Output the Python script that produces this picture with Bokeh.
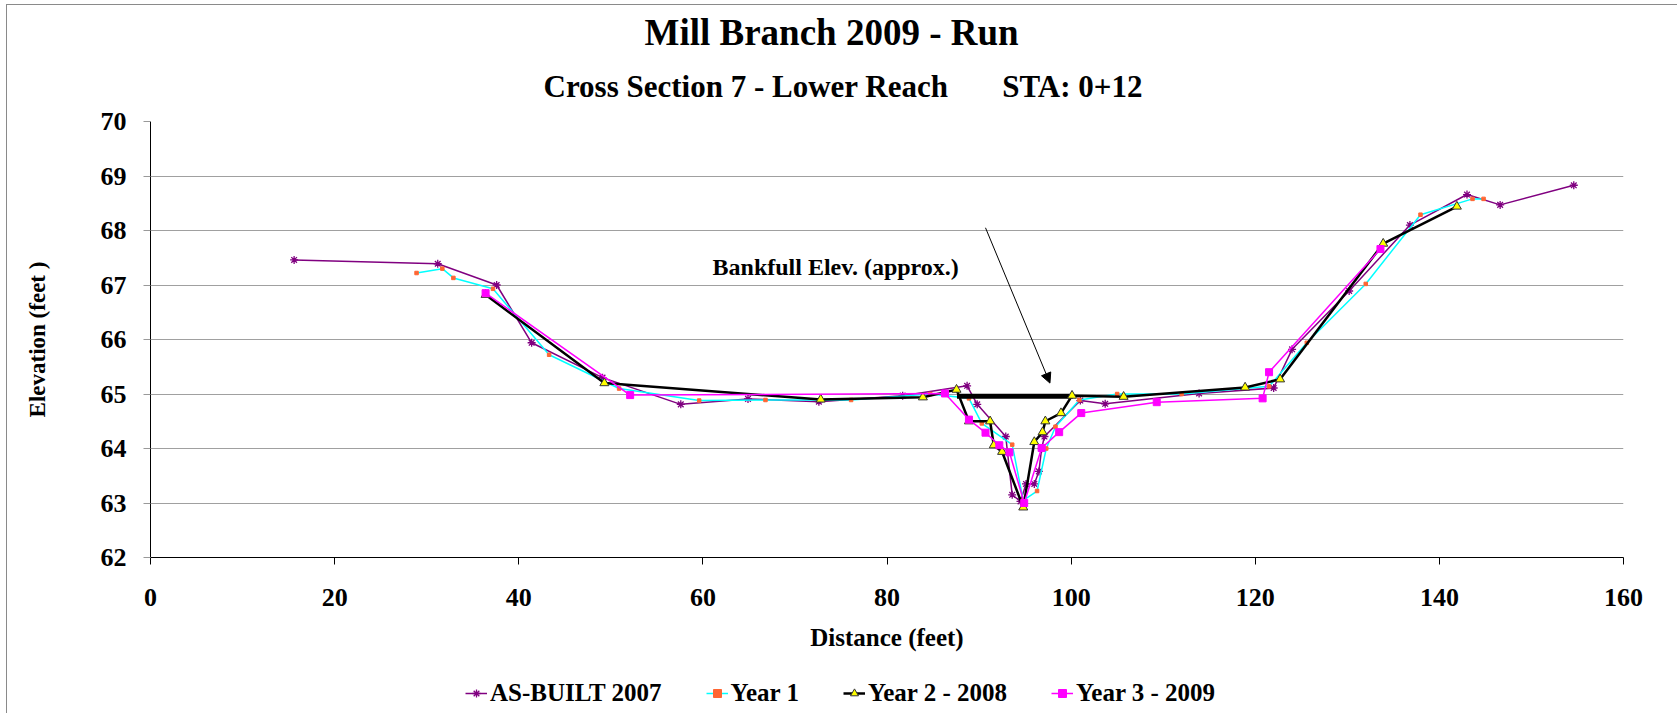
from bokeh.plotting import figure
from bokeh.layouts import column
from bokeh.models import (Range1d, FixedTicker, Title, Label, Arrow, NormalHead,
                          Legend, LegendItem)
from bokeh.embed import file_html
from bokeh.resources import INLINE

FONT = "Liberation Serif"

# Survey data: distance (ft) and elevation (ft)
asbuilt_x = [15.6, 31.2, 37.6, 41.4, 49.1, 57.6, 64.9, 72.6, 81.7, 88.7, 89.8, 92.9,
             93.6, 94.5, 95.1, 96.0, 96.5, 96.8, 97.1, 101.0, 103.7, 113.9, 122.0,
             124.0, 130.2, 136.8, 143.0, 146.6, 154.6]
asbuilt_y = [67.46, 67.39, 67.00, 65.94, 65.30, 64.81, 64.91, 64.86, 64.97, 65.15, 64.81, 64.22,
             63.15, 63.03, 63.35, 63.35, 63.58, 64.00, 64.22, 64.88, 64.82, 65.01, 65.11,
             65.82, 66.89, 68.10, 68.66, 68.47, 68.83]

year1_x = [28.9, 31.7, 32.9, 37.2, 43.3, 50.9, 59.6, 66.8, 76.1, 84.7, 88.9, 90.3,
           93.6, 94.8, 96.3, 97.3, 98.3, 100.9, 105.0, 112.0, 121.5, 125.6, 132.0,
           137.95, 143.6, 144.8]
year1_y = [67.22, 67.30, 67.13, 66.93, 65.72, 65.10, 64.88, 64.89, 64.89, 65.00, 64.92, 64.46,
           64.07, 63.05, 63.22, 64.00, 64.40, 64.89, 65.00, 65.00, 65.14, 65.94, 67.02,
           68.29, 68.58, 68.58]

year2_x = [36.4, 49.3, 72.8, 83.9, 87.55, 88.9, 91.2, 91.6, 92.5, 94.8, 96.0, 96.9,
           97.2, 98.9, 100.1, 105.7, 118.9, 122.7, 133.9, 141.9]
year2_y = [66.82, 65.20, 64.90, 64.94, 65.08, 64.50, 64.50, 64.06, 63.94, 62.92, 64.12, 64.30,
           64.50, 64.65, 64.97, 64.95, 65.12, 65.27, 67.76, 68.44]

year3_x = [36.4, 52.1, 86.3, 88.9, 90.7, 92.2, 93.3, 94.9, 96.8, 98.7, 101.1, 109.3,
           120.8, 121.5, 133.6]
year3_y = [66.85, 64.98, 65.01, 64.53, 64.29, 64.06, 63.93, 63.00, 64.01, 64.30, 64.65, 64.85,
           64.92, 65.40, 67.66]

# Approximate bankfull elevation line and its callout
bankfull_x = [87.6, 100.2]
bankfull_y = [64.96, 64.96]
bankfull_label_pos = (61.05, 67.33)
arrow_start = (90.7, 68.05)
arrow_end = (97.7, 65.2)

x_ticks = [0, 20, 40, 60, 80, 100, 120, 140, 160]
y_ticks = [62, 63, 64, 65, 66, 67, 68, 69, 70]

series_names = ["AS-BUILT 2007", "Year 1", "Year 2 - 2008", "Year 3 - 2009"]

# Visual style of each series: line, then marker
STYLES = [
    (dict(line_color="#800080", line_width=1.5),
     dict(marker="asterisk", size=8, line_color="#800080", line_width=1.3)),
    (dict(line_color="#00FFFF", line_width=1.5),
     dict(marker="square", size=3.5, fill_color="#FF6633", line_color="#FF6633")),
    (dict(line_color="black", line_width=2.5),
     dict(marker="triangle", size=9, fill_color="#FFFF00", line_color="#333333", line_width=1)),
    (dict(line_color="#FF00FF", line_width=1.5),
     dict(marker="square", size=7, fill_color="#FF00FF", line_color="#FF00FF")),
]

p = figure(width=1670, height=666, output_backend="svg", toolbar_location=None,
           x_range=Range1d(0, 160), y_range=Range1d(62, 70),
           min_border_left=143, min_border_right=54, min_border_top=116,
           min_border_bottom=114, title=None)
p.outline_line_color = None
p.background_fill_color = "white"
p.border_fill_color = "white"

# Titles (the first one added sits nearest to the plot area)
p.add_layout(Title(text="Cross Section 7 - Lower Reach" + "\u00a0" * 7 + "STA: 0+12",
                   align="left", offset=393, standoff=32, vertical_align="top",
                   text_font=FONT, text_font_size="31px", text_font_style="bold",
                   text_color="black"), "above")
p.add_layout(Title(text="Mill Branch 2009 - Run", align="left", offset=494, standoff=0,
                   vertical_align="bottom", text_font=FONT, text_font_size="37px",
                   text_font_style="bold", text_color="black"), "above")

# Axes
for ax in (p.xaxis[0], p.yaxis[0]):
    ax.axis_line_color = "black"
    ax.axis_line_width = 1
    ax.major_tick_in = 0
    ax.major_tick_out = 7
    ax.minor_tick_out = 0
    ax.minor_tick_in = 0
    ax.major_label_text_font = FONT
    ax.major_label_text_font_style = "bold"
    ax.major_label_text_font_size = "26px"
    ax.major_label_text_color = "black"
    ax.axis_label_text_font = FONT
    ax.axis_label_text_font_style = "bold"
    ax.axis_label_text_color = "black"

p.xaxis.ticker = FixedTicker(ticks=x_ticks)
p.yaxis.ticker = FixedTicker(ticks=y_ticks)
p.xaxis.major_tick_line_color = "black"
p.yaxis.major_tick_line_color = "#999999"
p.xaxis.major_label_standoff = 24
p.yaxis.major_label_standoff = 17
p.xaxis.axis_label = "Distance (feet)"
p.xaxis.axis_label_text_font_size = "25px"
p.xaxis.axis_label_standoff = 15
p.yaxis.axis_label = "Elevation (feet )"
p.yaxis.axis_label_text_font_size = "23px"
p.yaxis.axis_label_standoff = 48

p.xgrid.visible = False
p.ygrid.grid_line_color = "#a0a0a0"
p.ygrid.grid_line_width = 1

# Series (drawn bottom to top)
series = [(asbuilt_x, asbuilt_y), (year1_x, year1_y), (year2_x, year2_y), (year3_x, year3_y)]
for i, ((xs, ys), (lst, mst)) in enumerate(zip(series, STYLES)):
    if i == 2:
        p.line(bankfull_x, bankfull_y, line_color="black", line_width=5)
    p.line(xs, ys, **lst)
    p.scatter(xs, ys, **mst)

# Bankfull callout
p.add_layout(Label(x=bankfull_label_pos[0], y=bankfull_label_pos[1],
                   text="Bankfull Elev. (approx.)", text_font=FONT,
                   text_font_size="24px", text_font_style="bold", text_color="black",
                   text_align="left", text_baseline="middle"))
p.add_layout(Arrow(end=NormalHead(size=10, fill_color="black", line_color="black"),
                   x_start=arrow_start[0], y_start=arrow_start[1],
                   x_end=arrow_end[0], y_end=arrow_end[1],
                   line_color="black", line_width=1))

# Legend strip below the chart; its ranges keep the series themselves out of view
leg = figure(width=1670, height=42, output_backend="svg", toolbar_location=None,
             x_range=Range1d(0, 1), y_range=Range1d(0, 1), x_axis_type=None,
             y_axis_type=None, min_border=0, title=None)
leg.outline_line_color = None
leg.grid.visible = False
leg.background_fill_color = "white"
leg.border_fill_color = "white"

items = []
for name, (xs, ys), (lst, mst) in zip(series_names, series, STYLES):
    lr = leg.line(xs, ys, **lst)
    mr = leg.scatter(xs, ys, **mst)
    items.append(LegendItem(label=name, renderers=[lr, mr]))

legend = Legend(items=items, orientation="horizontal", location=(315, 6.5), padding=3,
                spacing=44, glyph_width=22, glyph_height=20, label_standoff=3, margin=0,
                border_line_color=None, background_fill_alpha=0,
                label_text_font=FONT, label_text_font_size="25px",
                label_text_font_style="bold", label_text_color="black")
leg.add_layout(legend, "center")

page = column(p, leg, spacing=0,
              styles={"margin-left": "6px", "margin-top": "4px",
                      "border-left": "1px solid #8a8a8a",
                      "border-top": "1px solid #8a8a8a"})

with open("out.html", "w") as f:
    f.write(file_html(page, INLINE))
